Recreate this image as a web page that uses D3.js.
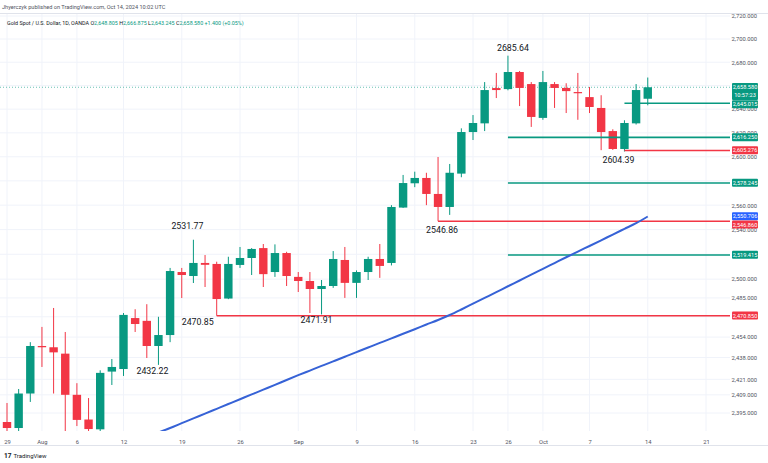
<!DOCTYPE html>
<html><head><meta charset="utf-8">
<script src="https://cdn.jsdelivr.net/npm/d3@7"></script>
<style>html,body{margin:0;padding:0;background:#fff;}svg{display:block;font-family:Roboto,"DejaVu Sans",sans-serif;}</style>
</head><body><svg id="c" width="768" height="463"></svg>
<script>
// ---------- DATA ----------
const dates = ["2024-07-29","2024-07-30","2024-07-31","2024-08-01","2024-08-02",
"2024-08-05","2024-08-06","2024-08-07","2024-08-08","2024-08-09",
"2024-08-12","2024-08-13","2024-08-14","2024-08-15","2024-08-16",
"2024-08-19","2024-08-20","2024-08-21","2024-08-22","2024-08-23",
"2024-08-26","2024-08-27","2024-08-28","2024-08-29","2024-08-30",
"2024-09-02","2024-09-03","2024-09-04","2024-09-05","2024-09-06",
"2024-09-09","2024-09-10","2024-09-11","2024-09-12","2024-09-13",
"2024-09-16","2024-09-17","2024-09-18","2024-09-19","2024-09-20",
"2024-09-23","2024-09-24","2024-09-25","2024-09-26","2024-09-27",
"2024-09-30","2024-10-01","2024-10-02","2024-10-03","2024-10-04",
"2024-10-07","2024-10-08","2024-10-09","2024-10-10","2024-10-11",
"2024-10-14"];
const futureDates = ["2024-10-15","2024-10-16","2024-10-17","2024-10-18","2024-10-21","2024-10-22","2024-10-23","2024-10-24","2024-10-25"];
const opens  = [2388.1,2383.5,2410,2447,2446, 2441,2409,2390,2382.5,2427, 2429,2469,2466.8,2447,2455.6,
2505.7,2502.5,2513,2512.2,2484.5, 2511.4,2517,2525,2505.7,2521, 2501.8,2498.5,2492.1,2494.5,2515.4,
2497,2505.7,2516.2,2513,2558, 2578,2582.4,2569.2,2558.5,2586, 2620.7,2628,2657.9,2657,2671.6,
2661.3,2632.6,2661.3,2658,2654.5, 2650.2,2641,2621.5,2606.5,2628, 2648.805];
const highs  = [2402.7,2413.5,2450,2462,2477, 2458,2418,2406.5,2428,2436.8, 2473,2476,2480,2470,2509,
2509,2531.77,2519.4,2514,2518, 2525.9,2525,2528.3,2528,2522, 2505.7,2505.7,2499.3,2522.6,2525.9,
2507,2518,2528.3,2560,2584.9, 2587.6,2586.7,2599.8,2594,2623.8, 2635,2663,2670.8,2685.64,2672.5,
2663,2672.5,2663,2662,2670.8, 2658.8,2651.8,2623,2630.6,2661.3, 2666.875];
const lows   = [2379,2379,2403.5,2430.6,2410, 2364,2385,2376,2378,2416.6, 2423.6,2458,2437.6,2432.22,2450,
2484.9,2496.9,2493.7,2470.85,2484, 2509,2503.3,2493.7,2501.8,2494.5, 2489.7,2473,2471.91,2493,2485,
2485,2499.3,2501,2511,2557.7, 2574.8,2560,2546.86,2552,2583, 2614,2621.5,2649.4,2656,2642.6,
2625,2631,2641,2636.7,2631, 2636.7,2605.5,2605.7,2604.39,2627, 2643.245];
const closes = [2383.5,2410,2447,2446,2442, 2409,2389.7,2382.7,2426,2430.6, 2471.5,2464.3,2447,2455.6,2506.5,
2503.3,2513,2511.5,2484.1,2512.2, 2517,2524.3,2504,2521,2502.5, 2498.5,2492.1,2494.5,2516.2,2497,
2505.7,2516.2,2510.6,2558.5,2578.2, 2582.4,2569.2,2558.5,2586.7,2620.7, 2628.3,2656.2,2656.2,2671.6,2658,
2633.4,2663,2658,2655.3,2653.7, 2641.8,2620.7,2606.5,2628.3,2656.2, 2658.58];

const maDates = dates.slice(13);
const maValues = [2380.1,2383.5,2387.2,2390.9,2394.5,2398.2,2401.9,2405.6,2409.3,2413.0,2416.7,2420.5,2424.2,2427.8,2431.4,
2435.0,2438.6,2442.2,2445.8,2449.4,2453.0,2456.6,2460.2,2463.9,2467.5,2471.4,2475.8,2480.4,2485.0,2489.6,
2494.3,2498.9,2503.6,2508.2,2512.9,2517.6,2522.2,2526.7,2531.3,2536.0,2540.6,2545.2,2550.7];

const levelValues = [2645.015, 2616.25, 2605.276, 2578.245, 2546.86, 2519.415, 2470.85];
const levelStarts = ["2024-10-10","2024-09-26","2024-10-10","2024-09-26","2024-09-18","2024-09-26","2024-08-22"];
const levelKinds  = ["support","support","resistance","support","resistance","support","resistance"];

const annoValues = [2685.64, 2604.39, 2546.86, 2531.77, 2470.85, 2471.91, 2432.22];
const annoDates  = ["2024-09-26","2024-10-10","2024-09-18","2024-08-20","2024-08-22","2024-09-04","2024-08-15"];

const gridTicks = [2720,2700,2680,2660,2640,2620,2600,2580,2560,2540,2520,2500,2485,2470,2454,2438,2421,2409,2395];
const yTickLabels = [2720,2700,2680,2640,2620,2600,2560,2540,2500,2485,2454,2438,2421,2409,2395];
const xTickDates  = ["2024-07-29","2024-08-01","2024-08-06","2024-08-12","2024-08-19","2024-08-26","2024-09-02","2024-09-09","2024-09-16","2024-09-23","2024-09-26","2024-10-01","2024-10-07","2024-10-14","2024-10-21"];
const xTickLabels = ["29","Aug","6","12","19","26","Sep","9","16","23","26","Oct","7","14","21"];

const lastPrice = 2658.58, lastTime = "10:57:23", maLast = 2550.706;

// ---------- LAYOUT ----------
const W = 768, H = 463, plotR = 730, plotT = 14, plotB = 431;
const annoDx = [5, -6, 4, -6, -19, -5, -6];
const annoDy = [-5, 11, 12, -11, 9, 9, 9];
const green = "#089981", red = "#f23645", blue = "#2962ff", maColor = "#3662d6";
const svg = d3.select("#c");

const allDates = dates.concat(futureDates);
const x = d3.scalePoint().domain(allDates).range([7, 7 + 11.65 * (allDates.length - 1)]);
const y = d3.scaleLog().domain([2395, 2720]).range([413, 16]);

svg.append("defs").append("clipPath").attr("id","clip")
  .append("rect").attr("x",0).attr("y",plotT).attr("width",plotR).attr("height",plotB-plotT);

// grid
const grid = svg.append("g").attr("clip-path","url(#clip)");
grid.selectAll("line.h").data(gridTicks).join("line").attr("class","h")
  .attr("x1",0).attr("x2",plotR).attr("y1",d=>y(d)).attr("y2",d=>y(d))
  .attr("stroke","#f0f3fa").attr("stroke-width",1);
grid.selectAll("line.v").data(xTickDates).join("line").attr("class","v")
  .attr("x1",d=>x(d)).attr("x2",d=>x(d)).attr("y1",plotT).attr("y2",plotB)
  .attr("stroke","#f0f3fa").attr("stroke-width",1);

// header
svg.append("line").attr("x1",0).attr("x2",W).attr("y1",13.5).attr("y2",13.5).attr("stroke","#e0e3eb");
svg.append("text").attr("x",2).attr("y",9).attr("font-size",5.6).attr("fill","#50535e")
  .text("Jhyerczyk published on TradingView.com, Oct 14, 2024 10:02 UTC");
const hdr = svg.append("text").attr("x",7).attr("y",24.5).attr("font-size",5.4).attr("fill","#131722");
hdr.append("tspan").text("Gold Spot / U.S. Dollar, 1D, OANDA  ");
const n = dates.length - 1;
const ohlc = [["O",opens[n]],["H",highs[n]],["L",lows[n]],["C",closes[n]]];
ohlc.forEach(([k,v])=>{
  hdr.append("tspan").text(k);
  hdr.append("tspan").attr("fill",green).text(d3.format(",.3f")(v)+" ");
});
hdr.append("tspan").attr("fill",green).text("+1.400 (+0.05%)");

const plot = svg.append("g").attr("clip-path","url(#clip)");

// last price dashed line
plot.append("line").attr("x1",0).attr("x2",plotR).attr("y1",y(lastPrice)).attr("y2",y(lastPrice))
  .attr("stroke",green).attr("stroke-opacity",0.6).attr("stroke-dasharray","1,2").attr("stroke-width",1);

// candles
const idx = d3.range(dates.length);
const cg = plot.append("g");
cg.selectAll("line.w").data(idx).join("line").attr("class","w")
  .attr("x1",i=>x(dates[i])).attr("x2",i=>x(dates[i]))
  .attr("y1",i=>y(highs[i])).attr("y2",i=>y(lows[i]))
  .attr("stroke",i=>closes[i]>=opens[i]?green:red).attr("stroke-width",1);
const bw = 8.4;
cg.selectAll("rect").data(idx).join("rect")
  .attr("x",i=>x(dates[i])-bw/2).attr("width",bw)
  .attr("y",i=>y(Math.max(opens[i],closes[i])))
  .attr("height",i=>Math.max(1.2, Math.abs(y(opens[i])-y(closes[i]))))
  .attr("fill",i=>closes[i]>=opens[i]?green:red);

// levels
plot.selectAll("line.lv").data(levelValues).join("line").attr("class","lv")
  .attr("x1",(d,i)=>x(levelStarts[i])).attr("x2",plotR)
  .attr("y1",d=>y(d)).attr("y2",d=>y(d))
  .attr("stroke",(d,i)=>levelKinds[i]==="support"?green:red).attr("stroke-width",1.6);

// moving average
plot.append("path").datum(maValues)
  .attr("d", d3.line().x((d,i)=>x(maDates[i])).y(d=>y(d)).curve(d3.curveMonotoneX))
  .attr("fill","none").attr("stroke",maColor).attr("stroke-width",2);

// annotations
svg.selectAll("text.an").data(annoValues).join("text").attr("class","an")
  .attr("x",(d,i)=>x(annoDates[i])+annoDx[i])
  .attr("y",(d,i)=>y(d)+annoDy[i])
  .attr("text-anchor","middle").attr("font-size",8.8).attr("fill","#131722")
  .text(d=>d3.format(".2f")(d));

// right axis
const ax = svg.append("g").attr("transform",`translate(${plotR},0)`)
  .call(d3.axisRight(y).tickValues(yTickLabels).tickFormat(d3.format(",.3f")).tickSize(0));
ax.select(".domain").remove();
ax.selectAll("text").attr("x",27).attr("text-anchor","end").attr("font-size",5.8)
  .attr("fill","#50535e").attr("font-family","Roboto, sans-serif");

// right price boxes
const boxes = [];
boxes.push({v:lastPrice, c:green, t:d3.format(",.3f")(lastPrice), t2:lastTime});
levelValues.forEach((v,i)=>boxes.push({v, c: levelKinds[i]==="support"?green:red, t:d3.format(",.3f")(v)}));
boxes.push({v:maLast, c:blue, t:d3.format(",.3f")(maLast)});
boxes.forEach(b=>{ b.h = b.t2 ? 17 : 8; b.top = y(b.v) - 4.2; });
boxes.sort((a,b)=>a.top-b.top);
let prev = -1e9;
boxes.forEach(b=>{ if (b.top < prev) b.top = prev; prev = b.top + b.h + 0.3; });
const bg = svg.append("g");
boxes.forEach(b=>{
  bg.append("rect").attr("x",732).attr("y",b.top).attr("width",26).attr("height",b.h)
    .attr("rx",1).attr("fill",b.c);
  bg.append("text").attr("x",745).attr("y",b.top+6).attr("text-anchor","middle")
    .attr("font-size",5.6).attr("fill","#fff").text(b.t);
  if (b.t2) bg.append("text").attr("x",745).attr("y",b.top+14).attr("text-anchor","middle")
    .attr("font-size",5.6).attr("fill","#fff").text(b.t2);
});

// bottom axis
const bx = svg.append("g").attr("transform",`translate(0,${plotB})`)
  .call(d3.axisBottom(x).tickValues(xTickDates).tickFormat((d,i)=>xTickLabels[i]).tickSize(0));
bx.select(".domain").remove();
bx.selectAll("text").attr("y",8.5).attr("font-size",5.8).attr("fill","#50535e").attr("font-family","Roboto, sans-serif");

svg.append("line").attr("x1",0).attr("x2",W).attr("y1",445.5).attr("y2",445.5).attr("stroke","#e0e3eb");
// footer logo
const ft = svg.append("text").attr("x",4).attr("y",458).attr("fill","#131722");
ft.append("tspan").attr("font-size",6.5).attr("font-weight","bold").text("17");
ft.append("tspan").attr("dx",2).attr("font-size",6).text("TradingView");
</script></body></html>
